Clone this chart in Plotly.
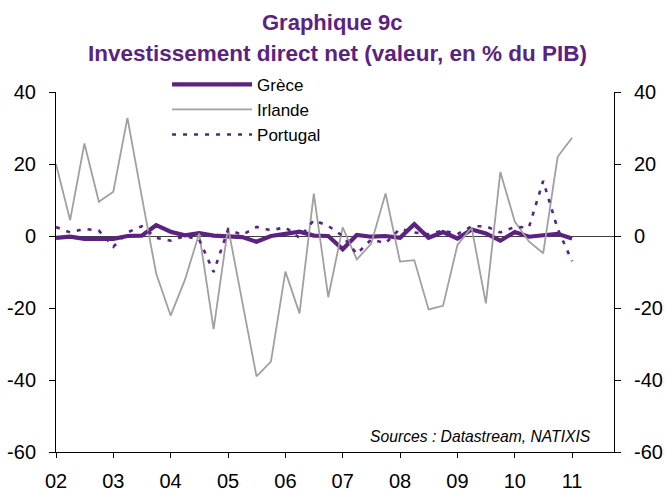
import pandas as pd
import plotly.graph_objects as go

# Quarterly observations 2002Q1 .. 2011Q1
quarters = pd.date_range("2002-01-01", periods=37, freq="QS")

grece = [-0.5, -0.2, -0.8, -0.8, -0.8, 0.0, 0.1, 3.0, 1.2, 0.2,
         0.8, 0.1, 0.0, -0.3, -1.6, 0.0, 0.6, 1.2, 0.1, 0.0,
         -3.7, 0.3, -0.2, 0.0, -0.5, 3.3, -0.5, 1.1, -0.7, 1.8,
         0.7, -1.3, 1.1, -0.2, 0.2, 0.6, -0.7]

irlande = [20.0, 4.4, 25.7, 9.5, 12.3, 32.8, 11.0, -10.4, -22.1, -12.2,
           0.7, -25.9, 2.4, -18.0, -39.0, -34.9, -9.9, -21.5, 11.8, -17.0,
           2.4, -6.5, -2.2, 11.8, -7.1, -6.7, -20.4, -19.4, -2.5, 2.4,
           -18.7, 17.8, 4.0, -1.5, -4.8, 22.0, 27.3]

portugal = [2.5, 1.0, 2.0, 1.5, -3.0, 1.0, 2.7, -0.5, -1.3, 0.0,
            -1.0, -10.0, 1.8, 0.3, 2.5, 1.6, 2.4, -0.5, 4.4, 2.8,
            0.0, -5.0, -1.0, -2.0, 2.0, 1.0, 0.5, 1.5, 0.5, 2.7,
            2.7, 1.0, 2.5, 2.4, 15.3, 2.0, -7.0]

year_ticks = pd.date_range("2002-01-01", periods=10, freq="YS")
year_labels = ["02", "03", "04", "05", "06", "07", "08", "09", "10", "11"]
y_ticks = [-60, -40, -20, 0, 20, 40]
y_labels = ["-60", "-40", "-20", "0", "20", "40"]

PURPLE = "#5B2282"
GRAY = "#A0A0A0"
FONT = "Liberation Sans, Arial, sans-serif"

fig = go.Figure()
fig.add_trace(go.Scatter(x=quarters, y=grece, name="Grèce", mode="lines",
                         line=dict(color=PURPLE, width=4.2)))
fig.add_trace(go.Scatter(x=quarters, y=irlande, name="Irlande", mode="lines",
                         line=dict(color=GRAY, width=1.8)))
fig.add_trace(go.Scatter(x=quarters, y=portugal, name="Portugal", mode="lines",
                         yaxis="y2",
                         line=dict(color=PURPLE, width=2.6, dash="4px,7px")))

axis_common = dict(
    showgrid=False, showline=True, linecolor="black", linewidth=1,
    ticks="outside", tickcolor="black", tickfont=dict(size=20),
)

fig.update_layout(
    width=666, height=491,
    margin=dict(l=56, r=52, t=92, b=39, autoexpand=False),
    paper_bgcolor="white", plot_bgcolor="white",
    font=dict(family=FONT, color="black"),
    showlegend=True,
    legend=dict(x=0.199, y=1.07, xanchor="left", yanchor="top",
                bgcolor="rgba(0,0,0,0)", font=dict(size=17, family=FONT),
                itemwidth=80, tracegroupgap=0),
    xaxis=dict(
        type="date", range=["2002-01-01", "2011-09-25"],
        tickvals=list(year_ticks), ticktext=year_labels,
        zeroline=False, ticklen=5, ticklabelstandoff=6, **axis_common,
    ),
    yaxis=dict(
        range=[-60, 40], tickvals=y_ticks, ticktext=y_labels,
        zeroline=True, zerolinecolor="#404040", zerolinewidth=1,
        ticklen=6, ticklabelstandoff=9, **axis_common,
    ),
    yaxis2=dict(
        range=[-60, 40], tickvals=y_ticks, ticktext=y_labels,
        overlaying="y", side="right", zeroline=False,
        ticklen=6, ticklabelstandoff=9, **axis_common,
    ),
    annotations=[
        dict(text="<b>Graphique 9c</b>", xref="paper", yref="paper",
             x=0.495, y=1.192, xanchor="center", yanchor="middle",
             showarrow=False, font=dict(size=22, family=FONT, color=PURPLE)),
        dict(text="<b>Investissement direct net (valeur, en % du PIB)</b>",
             xref="paper", yref="paper", x=0.505, y=1.107,
             xanchor="center", yanchor="middle",
             showarrow=False, font=dict(size=22.5, family=FONT, color=PURPLE)),
        dict(text="<i>Sources : Datastream, NATIXIS</i>",
             xref="paper", yref="paper", x=0.962, y=0.015,
             xanchor="right", yanchor="bottom", showarrow=False,
             font=dict(size=15.7, family=FONT, color="black")),
    ],
)

fig.write_html("out.html", config={"displayModeBar": False},
               post_script="document.body.style.margin='0';")
